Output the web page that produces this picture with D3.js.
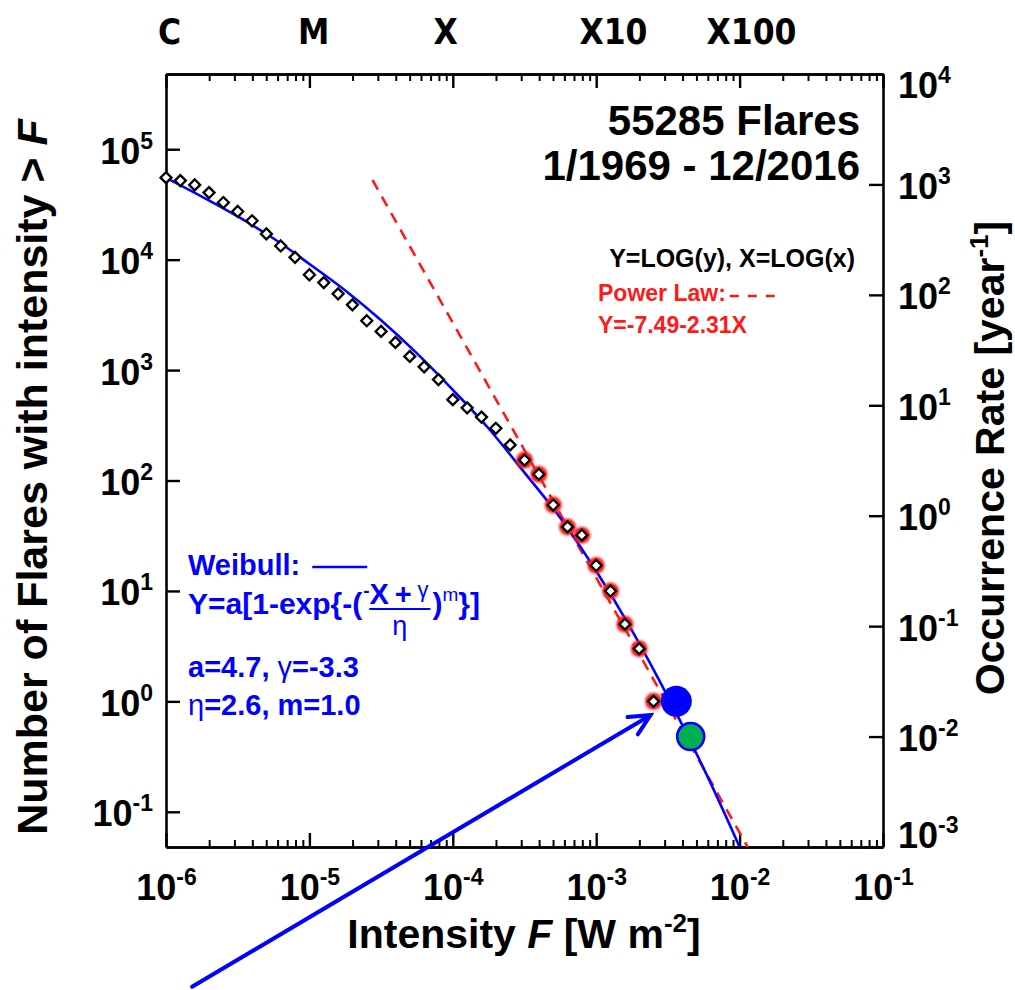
<!DOCTYPE html>
<html>
<head>
<meta charset="utf-8">
<script src="https://cdn.jsdelivr.net/npm/d3@7/dist/d3.min.js"></script>
<style>
body { margin: 0; background: #fff; }
text { font-family: "Liberation Sans", Arial, Helvetica, sans-serif; font-weight: bold; }
</style>
</head>
<body>
<svg id="chart" width="1015" height="990"></svg>
<script>
// cumulative flare counts N(>F), GOES 1/1969 - 12/2016
var years = 48;
var fluxLog = [-6.0, -5.9, -5.8, -5.7, -5.6, -5.5, -5.4, -5.3, -5.2, -5.1,
               -5.0, -4.9, -4.8, -4.7, -4.6, -4.5, -4.4, -4.3, -4.2, -4.1,
               -4.0, -3.9, -3.8, -3.7, -3.6, -3.5, -3.4, -3.3, -3.2, -3.1,
               -3.0, -2.9, -2.8, -2.7, -2.6];
var counts = [55285, 52000, 47500, 40500, 32900, 27300, 22500, 17100, 13300, 10500,
              7300, 6200, 4900, 3900, 2800, 2240, 1780, 1330, 1070, 820,
              540, 455, 375, 297, 210, 153, 114, 60, 38, 32,
              17, 10, 5, 3, 1];
var fitFromLog = -3.5;   // points above this flux are in the power law fit

// Weibull fit (log F, log rate per year)
var weibullLog = [-6.0, -5.75, -5.5, -5.25, -5.0, -4.75, -4.5, -4.25, -4.0,
                  -3.75, -3.5, -3.25, -3.0, -2.75, -2.5, -2.25, -2.0, -1.9];
var weibullRateLog = [3.06, 2.89, 2.71, 2.51, 2.28, 2.04, 1.77, 1.47, 1.14,
                      0.79, 0.39, -0.02, -0.50, -1.04, -1.64, -2.29, -3.00, -3.30];

// power law Y=-7.49-2.31X, end points of the dashed line
var powerLawLog = [-4.56, -1.90];
var powerLawRateLog = [3.04, -3.10];

var classNames = ["C", "M", "X", "X10", "X100"];
var classFlux = [1.06e-6, 1.07e-5, 0.89e-4, 1.32e-3, 1.21e-2];

var xTicks = [1e-6, 1e-5, 1e-4, 1e-3, 1e-2, 1e-1];
var countTicks = [1e-1, 1e0, 1e1, 1e2, 1e3, 1e4, 1e5];
var rateTicks = [1e-3, 1e-2, 1e-1, 1e0, 1e1, 1e2, 1e3, 1e4];

// highlighted events and the arrow (tail, head)
var markFlux = [3.62e-3, 4.56e-3];
var markCount = [1.0, 0.48];
var markColor = ["#0000ff", "#00b050"];
var arrowFlux = [1.52e-6, 2.39e-3];
var arrowCount = [2.6e-3, 0.75];

var pLeft = 166, pRight = 883, pTop = 74, pBottom = 847;
var blue = "#0000ff", red = "#ff1a1a";

var svg = d3.select("#chart");

var x = d3.scaleLog().domain([1e-6, 1e-1]).range([pLeft, pRight]);
var yCount = d3.scaleLog().domain([1e-3 * years, 1e4 * years]).range([pBottom, pTop]);
var yRate = d3.scaleLog().domain([1e-3, 1e4]).range([pBottom, pTop]);

var defs = svg.append("defs");
defs.append("clipPath").attr("id", "plot")
    .append("rect").attr("x", pLeft).attr("y", pTop)
    .attr("width", pRight - pLeft).attr("height", pBottom - pTop);
defs.append("filter").attr("id", "soft")
    .append("feGaussianBlur").attr("stdDeviation", 0.8);

function powerLabel(text, size) {
    text.each(function (d) {
        var t = d3.select(this).text(null);
        t.append("tspan").text("10");
        t.append("tspan").attr("dy", -15).style("font-size", size + "px")
            .text(Math.round(Math.log10(d)));
    });
}

function styleAxis(g, width) {
    g.attr("font-family", null).attr("font-size", null);
    g.select(".domain").attr("stroke-width", 2.6);
    g.selectAll(".tick line").attr("stroke-width", width);
}

var minors = x.ticks().filter(function (d) {
    return xTicks.indexOf(d) < 0;
});

// bottom axis
var gb = svg.append("g").attr("transform", "translate(0," + pBottom + ")")
    .call(d3.axisBottom(x).tickValues(xTicks).tickSizeInner(-14).tickSizeOuter(0));
styleAxis(gb, 2.4);
gb.selectAll("text").attr("dy", null).attr("y", 53).style("font-size", "36px")
    .call(powerLabel, 23);
svg.append("g").attr("transform", "translate(0," + pBottom + ")")
    .call(d3.axisBottom(x).tickValues(minors).tickSizeInner(-7).tickSizeOuter(0).tickFormat(""))
    .call(styleAxis, 2);

// top axis
svg.append("g").attr("transform", "translate(0," + pTop + ")")
    .call(d3.axisTop(x).tickValues(xTicks).tickSizeInner(-14).tickSizeOuter(0).tickFormat(""))
    .call(styleAxis, 2.4);
svg.append("g").attr("transform", "translate(0," + pTop + ")")
    .call(d3.axisTop(x).tickValues(minors).tickSizeInner(-7).tickSizeOuter(0).tickFormat(""))
    .call(styleAxis, 2);

// left axis: number of flares
var gl = svg.append("g").attr("transform", "translate(" + pLeft + ",0)")
    .call(d3.axisLeft(yCount).tickValues(countTicks).tickSizeInner(-14).tickSizeOuter(0).tickPadding(13));
styleAxis(gl, 2.4);
gl.selectAll("text").attr("dy", null).attr("y", 14).style("font-size", "36px")
    .call(powerLabel, 23);

// right axis: occurrence rate, end labels kept inside the frame height
var gr = svg.append("g").attr("transform", "translate(" + pRight + ",0)")
    .call(d3.axisRight(yRate).tickValues(rateTicks).tickSizeInner(-14).tickSizeOuter(0).tickPadding(15));
styleAxis(gr, 2.4);
gr.selectAll("text").attr("dy", null)
    .attr("y", function (d, i) {
        if (i === 0) return 0;
        if (i === rateTicks.length - 1) return 23;
        return 14;
    })
    .style("font-size", "36px")
    .call(powerLabel, 23);

// axis titles
var xt = svg.append("text").attr("x", 524).attr("y", 948)
    .attr("text-anchor", "middle").style("font-size", "41px");
xt.append("tspan").text("Intensity ");
xt.append("tspan").style("font-style", "italic").text("F");
xt.append("tspan").text(" [W m");
xt.append("tspan").attr("dy", -16).style("font-size", "26px").text("-2");
xt.append("tspan").attr("dy", 16).text("]");

var yt = svg.append("text").attr("transform", "translate(47,477) rotate(-90)")
    .attr("text-anchor", "middle").style("font-size", "43px");
yt.append("tspan").text("Number of Flares with intensity > ");
yt.append("tspan").style("font-style", "italic").text("F");

var rt = svg.append("text").attr("transform", "translate(1004,458) rotate(-90)")
    .attr("text-anchor", "middle").style("font-size", "41px");
rt.append("tspan").text("Occurrence Rate [year");
rt.append("tspan").attr("dy", -16).style("font-size", "26px").text("-1");
rt.append("tspan").attr("dy", 16).text("]");

// GOES class labels above the frame
svg.selectAll(".cls").data(classNames).enter().append("text")
    .attr("class", "cls")
    .attr("x", function (d, i) { return x(classFlux[i]); })
    .attr("y", 44)
    .attr("text-anchor", "middle")
    .style("font-family", "'DejaVu Sans', sans-serif")
    .style("font-stretch", "condensed")
    .style("font-size", "35px")
    .text(function (d) { return d; });

// fits
var plot = svg.append("g").attr("clip-path", "url(#plot)");

plot.append("path")
    .datum(d3.range(powerLawLog.length))
    .attr("fill", "none").attr("stroke", red).attr("stroke-width", 2.6)
    .attr("stroke-dasharray", "11,8")
    .attr("d", d3.line()
        .x(function (i) { return x(Math.pow(10, powerLawLog[i])); })
        .y(function (i) { return yRate(Math.pow(10, powerLawRateLog[i])); }));

var points = fluxLog.map(function (f, i) {
    return { f: Math.pow(10, f), n: counts[i], fit: f >= fitFromLog - 1e-9 };
});

svg.append("g").selectAll("circle")
    .data(points.filter(function (d) { return d.fit; }))
    .enter().append("circle")
    .attr("cx", function (d) { return x(d.f); })
    .attr("cy", function (d) { return yCount(d.n); })
    .attr("r", 8.5)
    .attr("fill", "#ff1f1f")
    .attr("filter", "url(#soft)");

plot.append("path")
    .datum(d3.range(weibullLog.length))
    .attr("fill", "none").attr("stroke", blue).attr("stroke-width", 2.6)
    .attr("d", d3.line().curve(d3.curveMonotoneX)
        .x(function (i) { return x(Math.pow(10, weibullLog[i])); })
        .y(function (i) { return yRate(Math.pow(10, weibullRateLog[i])); }));

svg.append("g").selectAll("path")
    .data(points)
    .enter().append("path")
    .attr("transform", function (d) {
        return "translate(" + x(d.f) + "," + yCount(d.n) + ")";
    })
    .attr("d", "M0,-5.5L5.5,0L0,5.5L-5.5,0Z")
    .attr("fill", "#fff")
    .attr("stroke", "#000")
    .attr("stroke-width", 2.3);

// highlighted events
svg.append("g").selectAll("circle")
    .data(markFlux)
    .enter().append("circle")
    .attr("cx", function (d) { return x(d); })
    .attr("cy", function (d, i) { return yCount(markCount[i]); })
    .attr("r", function (d, i) { return i === 0 ? 15.5 : 13.5; })
    .attr("fill", function (d, i) { return markColor[i]; })
    .attr("stroke", blue)
    .attr("stroke-width", function (d, i) { return i === 0 ? 0 : 2.6; });

// arrow
var x0 = x(arrowFlux[0]), y0 = yCount(arrowCount[0]);
var x1 = x(arrowFlux[1]), y1 = yCount(arrowCount[1]);
var ang = Math.atan2(y0 - y1, x0 - x1);
var head = 23, spread = 26 * Math.PI / 180;
var arrow = svg.append("g").attr("stroke", blue).attr("stroke-width", 4)
    .attr("fill", "none").attr("stroke-linecap", "round");
arrow.append("line").attr("x1", x0).attr("y1", y0).attr("x2", x1).attr("y2", y1);
arrow.append("path").attr("d",
    "M" + (x1 + head * Math.cos(ang + spread)) + "," + (y1 + head * Math.sin(ang + spread)) +
    "L" + x1 + "," + y1 +
    "L" + (x1 + head * Math.cos(ang - spread)) + "," + (y1 + head * Math.sin(ang - spread)));

// annotation, top right
svg.append("text").attr("x", 860).attr("y", 135).attr("text-anchor", "end")
    .style("font-size", "42px").text("55285 Flares");
svg.append("text").attr("x", 860).attr("y", 180).attr("text-anchor", "end")
    .style("font-size", "42px").text("1/1969 - 12/2016");
svg.append("text").attr("x", 855).attr("y", 267).attr("text-anchor", "end")
    .style("font-size", "25px").text("Y=LOG(y), X=LOG(x)");
var pl = svg.append("text").attr("x", 598).attr("y", 301).attr("fill", red)
    .style("font-size", "23px").text("Power Law:");
var plEnd = 598 + pl.node().getComputedTextLength();
svg.append("line").attr("x1", plEnd + 4).attr("x2", 782).attr("y1", 296).attr("y2", 296)
    .attr("stroke", red).attr("stroke-width", 2.4).attr("stroke-dasharray", "9,9");
svg.append("text").attr("x", 598).attr("y", 333).attr("fill", red)
    .style("font-size", "23px").text("Y=-7.49-2.31X");

// annotation, Weibull fit
var wx = 188, fs = 29;
var wb = svg.append("text").attr("x", wx).attr("y", 575).attr("fill", blue)
    .style("font-size", fs + "px").text("Weibull:");
var wbEnd = wx + wb.node().getComputedTextLength();
svg.append("line").attr("x1", wbEnd + 12).attr("x2", wbEnd + 67).attr("y1", 567).attr("y2", 567)
    .attr("stroke", blue).attr("stroke-width", 2.4);

var eq = svg.append("text").attr("x", wx).attr("y", 614).attr("fill", blue)
    .style("font-size", "30px").text("Y=a[1-exp{-(");
var fx = wx + eq.node().getComputedTextLength() + 1;
var num = svg.append("text").attr("x", fx).attr("y", 604).attr("fill", blue)
    .style("font-size", fs + "px");
num.append("tspan").attr("dy", -7).style("font-size", "19px").text("-");
num.append("tspan").attr("dy", 7).text("X\u2009+\u2009");
num.append("tspan").attr("dy", -7).style("font-size", "22px").style("font-weight", "normal").text("\u03b3");
var numW = num.node().getComputedTextLength();
svg.append("line").attr("x1", fx + 6).attr("x2", fx + numW + 2).attr("y1", 609).attr("y2", 609)
    .attr("stroke", blue).attr("stroke-width", 2.2);
svg.append("text").attr("x", fx + 6 + (numW - 4) / 2).attr("y", 635).attr("fill", blue)
    .attr("text-anchor", "middle").style("font-size", "27px").style("font-weight", "normal")
    .text("\u03b7");
var tail = svg.append("text").attr("x", fx + numW + 4).attr("y", 614).attr("fill", blue)
    .style("font-size", "30px");
tail.append("tspan").text(")");
tail.append("tspan").attr("dy", -13).style("font-size", "19px").style("font-weight", "normal").text("m");
tail.append("tspan").attr("dy", 13).text("}]");

var p1 = svg.append("text").attr("x", wx).attr("y", 677).attr("fill", blue)
    .style("font-size", fs + "px");
p1.append("tspan").text("a=4.7, ");
p1.append("tspan").style("font-weight", "normal").text("\u03b3");
p1.append("tspan").text("=-3.3");
var p2 = svg.append("text").attr("x", wx).attr("y", 715).attr("fill", blue)
    .style("font-size", fs + "px");
p2.append("tspan").style("font-weight", "normal").text("\u03b7");
p2.append("tspan").text("=2.6, m=1.0");
</script>
</body>
</html>
